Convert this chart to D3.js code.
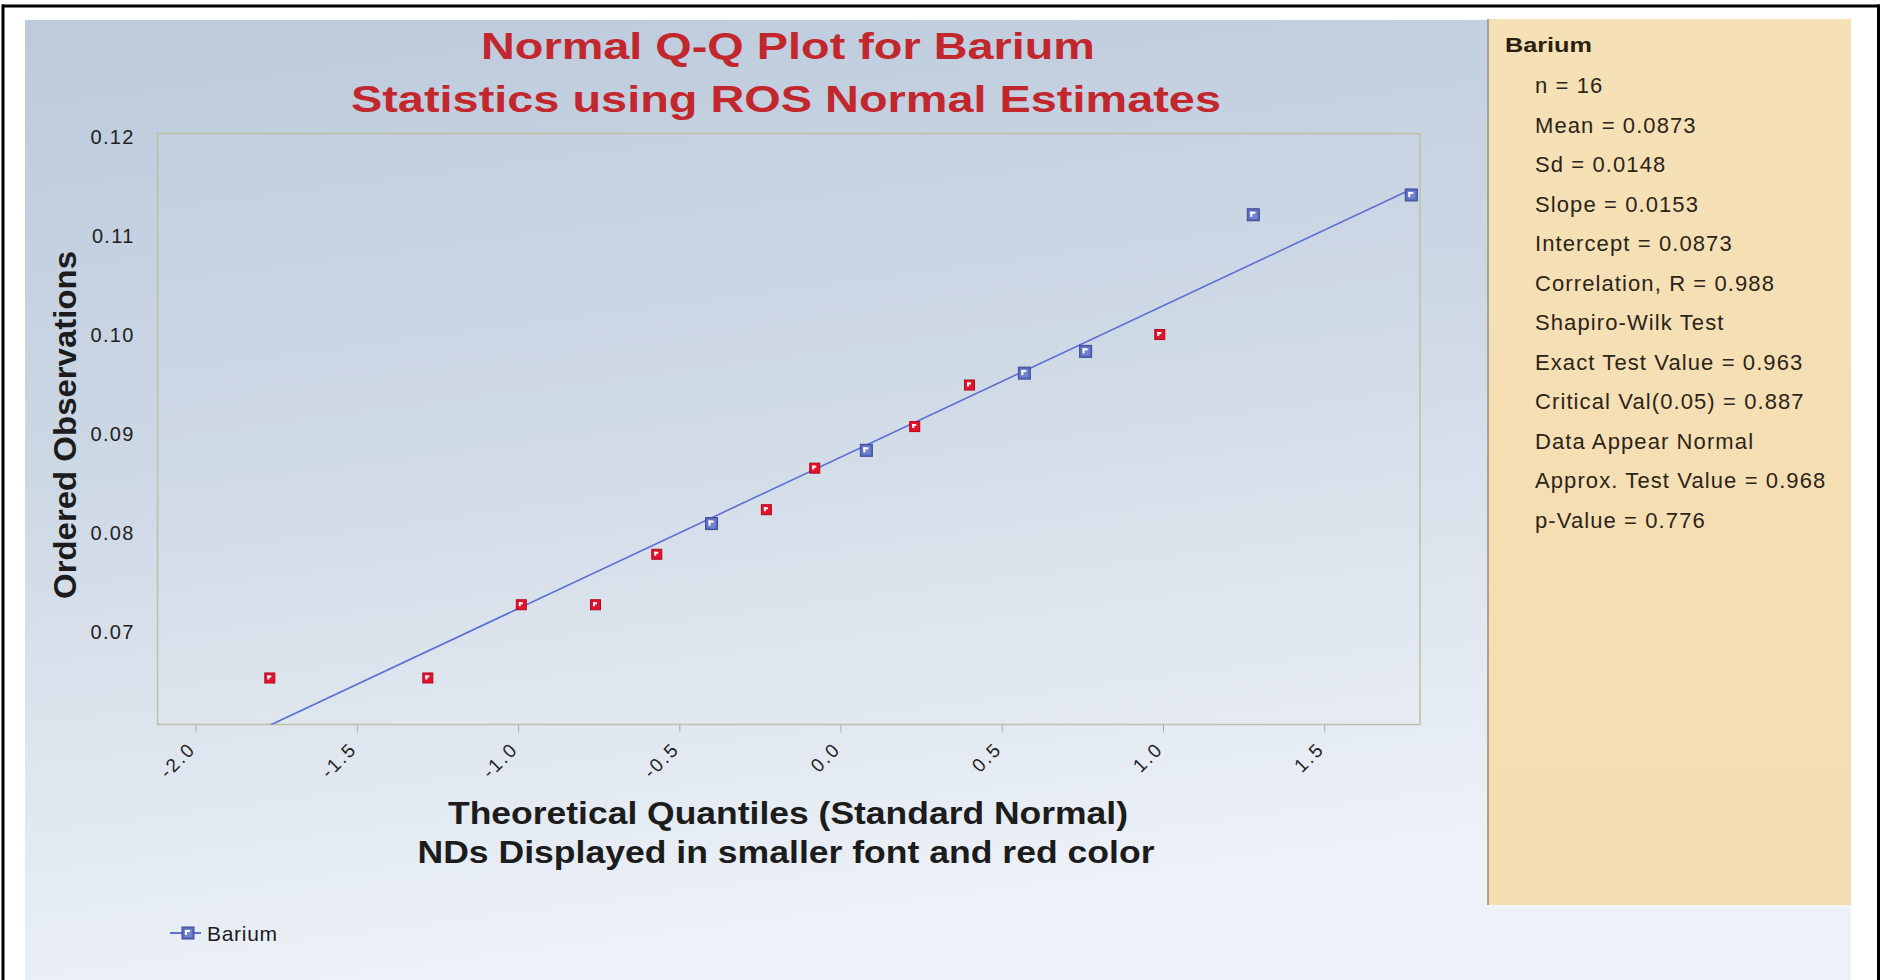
<!DOCTYPE html>
<html><head><meta charset="utf-8">
<script src="https://cdn.jsdelivr.net/npm/d3@7"></script>
<style>
html,body{margin:0;padding:0;background:#fff;overflow:hidden;}
svg{display:block;}
text{font-family:"Liberation Sans", Arial, sans-serif;}
</style></head>
<body><svg id="c" width="1887" height="980"></svg>
<script>
// ---- data ----
const theoreticalQuantiles = [-1.77,-1.28,-0.99,-0.76,-0.57,-0.40,-0.23,-0.08,0.08,0.23,0.40,0.57,0.76,0.99,1.28,1.77];
const orderedObservations = [0.0650,0.0650,0.0724,0.0724,0.0775,0.0806,0.0820,0.0862,0.0880,0.0904,0.0946,0.0958,0.0980,0.0997,0.1118,0.1138];
const detected = [false,false,false,false,false,true,false,false,true,false,false,true,true,false,true,true];
const xTicks = [-2.0,-1.5,-1.0,-0.5,0.0,0.5,1.0,1.5];
const yTicks = [0.07,0.08,0.09,0.10,0.11,0.12];
const xDomain = [-2.118, 1.797];
const yDomain = [0.0603, 0.12];
const fitSlope = 0.0153;
const fitIntercept = 0.0873;
const titleLines = ["Normal Q-Q Plot for Barium","Statistics using ROS Normal Estimates"];
const xTitleLines = ["Theoretical Quantiles (Standard Normal)","NDs Displayed in smaller font and red color"];
const yTitle = "Ordered Observations";
const seriesName = "Barium";
const statsLines = ["n = 16","Mean = 0.0873","Sd = 0.0148","Slope = 0.0153","Intercept = 0.0873","Correlation, R = 0.988","Shapiro-Wilk Test","Exact Test Value = 0.963","Critical Val(0.05) = 0.887","Data Appear Normal","Approx. Test Value = 0.968","p-Value = 0.776"];

// ---- layout ----
const svg = d3.select("#c");
const P = {x0:157.6, x1:1420, y0:133.6, y1:724.5};
const x = d3.scaleLinear().domain(xDomain).range([P.x0,P.x1]);
const y = d3.scaleLinear().domain(yDomain).range([P.y1,P.y0]);

const defs = svg.append("defs");
const bg = defs.append("linearGradient").attr("id","bg").attr("x1",0).attr("y1",0).attr("x2",0.25).attr("y2",1);
bg.append("stop").attr("offset","0%").attr("stop-color","#bccad c".replace(" ",""));
bg.append("stop").attr("offset","45%").attr("stop-color","#cdd8e5");
bg.append("stop").attr("offset","100%").attr("stop-color","#eef2f8");
const bz = defs.append("linearGradient").attr("id","beige").attr("x1",0).attr("y1",0).attr("x2",0).attr("y2",1);
bz.append("stop").attr("offset","0%").attr("stop-color","#f6e0b6");
bz.append("stop").attr("offset","100%").attr("stop-color","#f4ddb0");
defs.append("clipPath").attr("id","plotclip").append("rect")
  .attr("x",P.x0).attr("y",P.y0).attr("width",P.x1-P.x0).attr("height",P.y1-P.y0);

// outer frame
svg.append("rect").attr("x",25).attr("y",20).attr("width",1826).attr("height",960).attr("fill","url(#bg)");
svg.append("rect").attr("x",2).attr("y",4.5).attr("width",1878).attr("height",3).attr("fill","#000");
svg.append("rect").attr("x",1.5).attr("y",4.5).attr("width",3).attr("height",976).attr("fill","#000");
svg.append("rect").attr("x",1877).attr("y",4.5).attr("width",3).attr("height",976).attr("fill","#000");

// stats panel
svg.append("rect").attr("x",1488).attr("y",19).attr("width",363).attr("height",886).attr("fill","url(#beige)");
svg.append("line").attr("x1",1488).attr("x2",1488).attr("y1",19).attr("y2",905).attr("stroke","#a9a28f").attr("stroke-width",2);
svg.append("line").attr("x1",1488).attr("x2",1851).attr("y1",906).attr("y2",906).attr("stroke","#f6f3f3").attr("stroke-width",2);

// plot area
svg.append("rect").attr("x",P.x0).attr("y",P.y0).attr("width",P.x1-P.x0).attr("height",P.y1-P.y0)
  .attr("fill","#ffffff").attr("fill-opacity",0.04).attr("stroke","#bcc1a3").attr("stroke-width",1.5);

// titles
const title = svg.append("g");
title.append("text").attr("x",788).attr("y",59).attr("text-anchor","middle").attr("font-size",36).attr("font-weight","bold")
  .attr("fill","#c3272e").attr("textLength",614).attr("lengthAdjust","spacingAndGlyphs").text(titleLines[0]);
title.append("text").attr("x",786).attr("y",112).attr("text-anchor","middle").attr("font-size",36).attr("font-weight","bold")
  .attr("fill","#c3272e").attr("textLength",870).attr("lengthAdjust","spacingAndGlyphs").text(titleLines[1]);

// axes
const yAxis = svg.append("g").attr("transform",`translate(${P.x0},0)`)
  .call(d3.axisLeft(y).tickValues(yTicks).tickSize(0).tickPadding(23).tickFormat(d=>d.toFixed(2)));
yAxis.select(".domain").remove();
yAxis.selectAll("text").attr("font-size",20).attr("fill","#222").attr("letter-spacing","1.3px")
  .attr("font-family","Liberation Sans, Arial, sans-serif").attr("dy","0.48em");

const xAxis = svg.append("g").attr("transform",`translate(0,${P.y1})`)
  .call(d3.axisBottom(x).tickValues(xTicks).tickSize(8).tickFormat(d=>d.toFixed(1)));
xAxis.select(".domain").remove();
xAxis.selectAll(".tick line").attr("stroke","#a7aeb4").attr("stroke-width",1);
xAxis.selectAll("text").attr("font-size",19).attr("fill","#222").attr("letter-spacing","2.2px")
  .attr("font-family","Liberation Sans, Arial, sans-serif")
  .attr("x",0).attr("y",0).attr("dy","0.35em").attr("text-anchor","end")
  .attr("transform","translate(-4,21) rotate(-45)");

// axis titles
svg.append("text").attr("x",788).attr("y",824).attr("text-anchor","middle").attr("font-size",31).attr("font-weight","bold")
  .attr("fill","#1c1c1c").attr("textLength",680).attr("lengthAdjust","spacingAndGlyphs").text(xTitleLines[0]);
svg.append("text").attr("x",786).attr("y",863).attr("text-anchor","middle").attr("font-size",31).attr("font-weight","bold")
  .attr("fill","#1c1c1c").attr("textLength",737).attr("lengthAdjust","spacingAndGlyphs").text(xTitleLines[1]);
svg.append("text").attr("transform","translate(76,425) rotate(-90)").attr("text-anchor","middle").attr("font-size",31).attr("font-weight","bold")
  .attr("fill","#1c1c1c").attr("textLength",348).attr("lengthAdjust","spacingAndGlyphs").text(yTitle);

// fit line
const q0 = d3.min(theoreticalQuantiles), q1 = d3.max(theoreticalQuantiles);
svg.append("g").attr("clip-path","url(#plotclip)").append("line")
  .attr("x1",x(q0)).attr("y1",y(fitIntercept+fitSlope*q0))
  .attr("x2",x(q1)).attr("y2",y(fitIntercept+fitSlope*q1))
  .attr("stroke","#5b6fd4").attr("stroke-width",1.6);

// markers
function marker(g, cx, cy, det){
  const s = det ? 12 : 10;
  const fill = det ? "#5a6bbd" : "#e3132c";
  const stroke = det ? "#3c4b98" : "#b3061c";
  g.append("rect").attr("x",cx-s/2).attr("y",cy-s/2).attr("width",s).attr("height",s)
    .attr("fill",fill).attr("stroke",stroke).attr("stroke-width",1);
  if(det){
    g.append("rect").attr("x",cx-s/2+2).attr("y",cy-s/2+2).attr("width",s-4).attr("height",s-4).attr("fill","#7384cf");
  }
  const o = det ? 3 : 2.5, L = det ? 5 : 4;
  g.append("rect").attr("x",cx-s/2+o).attr("y",cy-s/2+o).attr("width",L).attr("height",2).attr("fill","#fff");
  g.append("rect").attr("x",cx-s/2+o).attr("y",cy-s/2+o).attr("width",2).attr("height",L).attr("fill","#fff");
}
const pts = svg.append("g");
theoreticalQuantiles.forEach((q,i)=>{
  marker(pts.append("g"), x(q), y(orderedObservations[i]), detected[i]);
});

// legend
const lg = svg.append("g");
lg.append("line").attr("x1",170).attr("x2",201).attr("y1",933).attr("y2",933).attr("stroke","#5b6fd4").attr("stroke-width",2);
marker(lg, 188, 933, true);
lg.append("text").attr("x",207).attr("y",941).attr("font-size",21).attr("fill","#1c1c1c").attr("letter-spacing","0.7px").text(seriesName);

// stats text
const st = svg.append("g");
st.append("text").attr("x",1505).attr("y",52).attr("font-size",21).attr("font-weight","bold").attr("fill","#2a1f10")
  .attr("textLength",87).attr("lengthAdjust","spacingAndGlyphs").text(seriesName);
st.selectAll("text.s").data(statsLines).join("text").attr("class","s")
  .attr("x",1535).attr("y",(d,i)=>93+39.5*i).attr("font-size",22).attr("fill","#2b2418")
  .attr("letter-spacing","1.1px").text(d=>d);
</script>
</body></html>
